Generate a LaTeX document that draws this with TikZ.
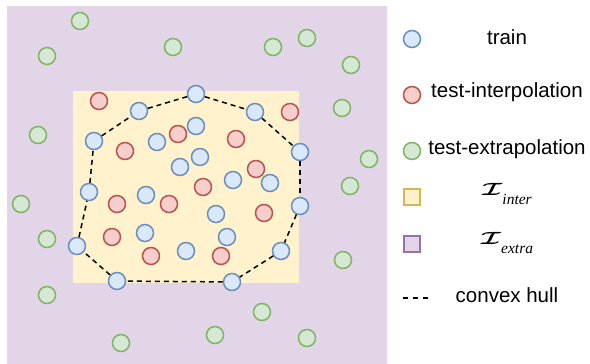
\documentclass[tikz,border=0pt]{standalone}
\usepackage{graphicx}
\usepackage{fontspec}
\setmainfont{Liberation Sans}
\newfontfamily\subserif{Liberation Serif}
\definecolor{trainF}{HTML}{DAE8FC}\definecolor{trainD}{HTML}{6C8EBF}
\definecolor{interF}{HTML}{F8CECC}\definecolor{interD}{HTML}{B85450}
\definecolor{extraF}{HTML}{D5E8D4}\definecolor{extraD}{HTML}{82B366}
\definecolor{yelF}{HTML}{FFF2CC}\definecolor{yelD}{HTML}{D6B656}
\definecolor{purF}{HTML}{E1D5E7}\definecolor{purD}{HTML}{9673A6}
\newcommand{\calI}{{\fontsize{21}{26}\selectfont\boldmath\scalebox{1.35}[0.85]{$\mathcal{I}$}}}
\newcommand{\subtxt}[1]{\raisebox{-9pt}{\fontsize{15.5}{18}\selectfont\subserif\itshape #1}}
\tikzset{
  pt/.style={circle,inner sep=0pt,minimum size=17pt,line width=1.5pt},
  trn/.style={pt,fill=trainF,draw=trainD},
  tint/.style={pt,fill=interF,draw=interD},
  textx/.style={pt,fill=extraF,draw=extraD},
  hullline/.style={dashed,dash pattern=on 5pt off 4pt,line width=1.5pt,black},
  lab/.style={anchor=base,font=\fontsize{20.5}{24}\selectfont,inner sep=0pt},
  sq/.style={rectangle,inner sep=0pt,minimum size=16pt,line width=1.5pt}
}
\begin{document}
\begin{tikzpicture}[x=1pt,y=-1pt]
\useasboundingbox (0,0) rectangle (590,364);
% regions
\fill[purF] (7,6) rectangle (387,364);
\fill[yelF] (73,91) rectangle (299,283);
% hull nodes (train)
\node[trn] (h1) at (77,246) {};
\node[trn] (h2) at (89,192) {};
\node[trn] (h3) at (94,141) {};
\node[trn] (h4) at (139,111) {};
\node[trn] (h5) at (196,94) {};
\node[trn] (h6) at (255,112) {};
\node[trn] (h7) at (300,152) {};
\node[trn] (h8) at (300,206) {};
\node[trn] (h9) at (281,251) {};
\node[trn] (h10) at (232,282) {};
\node[trn] (h11) at (117,281) {};
\draw[hullline] (h1) -- (h2);
\draw[hullline] (h2) -- (h3);
\draw[hullline] (h3) -- (h4);
\draw[hullline] (h4) -- (h5);
\draw[hullline] (h5) -- (h6);
\draw[hullline] (h6) -- (h7);
\draw[hullline] (h7) -- (h8);
\draw[hullline] (h8) -- (h9);
\draw[hullline] (h9) -- (h10);
\draw[hullline] (h10) -- (h11);
\draw[hullline] (h11) -- (h1);
% interior train
\node[trn] (b1) at (157,142) {};
\node[trn] (b2) at (196,126) {};
\node[trn] (b3) at (180,167) {};
\node[trn] (b4) at (200,157) {};
\node[trn] (b5) at (233,180) {};
\node[trn] (b6) at (270,183) {};
\node[trn] (b7) at (146,195) {};
\node[trn] (b8) at (145,233) {};
\node[trn] (b9) at (186,251) {};
\node[trn] (b10) at (216,214) {};
\node[trn] (b11) at (227,237) {};
% test interpolation
\node[tint] (r1) at (99,101) {};
\node[tint] (r2) at (178,134) {};
\node[tint] (r3) at (125,151) {};
\node[tint] (r4) at (290,112) {};
\node[tint] (r5) at (236,139) {};
\node[tint] (r6) at (256,169) {};
\node[tint] (r7) at (203,187) {};
\node[tint] (r8) at (117,204) {};
\node[tint] (r9) at (169,204) {};
\node[tint] (r10) at (112,237) {};
\node[tint] (r11) at (151,256) {};
\node[tint] (r12) at (264,213) {};
\node[tint] (r13) at (221,256) {};
% test extrapolation
\node[textx] (g1) at (80,21) {};
\node[textx] (g2) at (47,56) {};
\node[textx] (g3) at (173,47) {};
\node[textx] (g4) at (38,135) {};
\node[textx] (g5) at (273,47) {};
\node[textx] (g6) at (307,38) {};
\node[textx] (g7) at (351,65) {};
\node[textx] (g8) at (342,108) {};
\node[textx] (g9) at (369,159) {};
\node[textx] (g10) at (350,186) {};
\node[textx] (g11) at (21,204) {};
\node[textx] (g12) at (47,239) {};
\node[textx] (g13) at (343,260) {};
\node[textx] (g14) at (47,295) {};
\node[textx] (g15) at (262,312) {};
\node[textx] (g16) at (215,335) {};
\node[textx] (g17) at (307,338) {};
\node[textx] (g18) at (121,343) {};
% legend
\node[trn] (lt) at (412,39) {};
\node[lab] (ltt) at (507,45) {train};
\node[tint] (li) at (412,95) {};
\node[lab] (lit) at (507,97) {test-interpolation};
\node[textx] (le) at (412,151) {};
\node[lab] (let) at (507,154) {test-extrapolation};
\node[sq,fill=yelF,draw=yelD] (ly) at (412,197) {};
\node[lab] (lyt) at (507,195) {\calI\subtxt{inter}};
\node[sq,fill=purF,draw=purD] (lp) at (412,244) {};
\node[lab] (lpt) at (507,244) {\calI\subtxt{extra}};
\coordinate (ds) at (403,298);
\coordinate (de) at (431,298);
\draw[dashed,dash pattern=on 5pt off 5pt,line width=1.2pt] (ds) -- (de);
\node[lab] (lht) at (507,302) {convex hull};
\end{tikzpicture}
\end{document}
